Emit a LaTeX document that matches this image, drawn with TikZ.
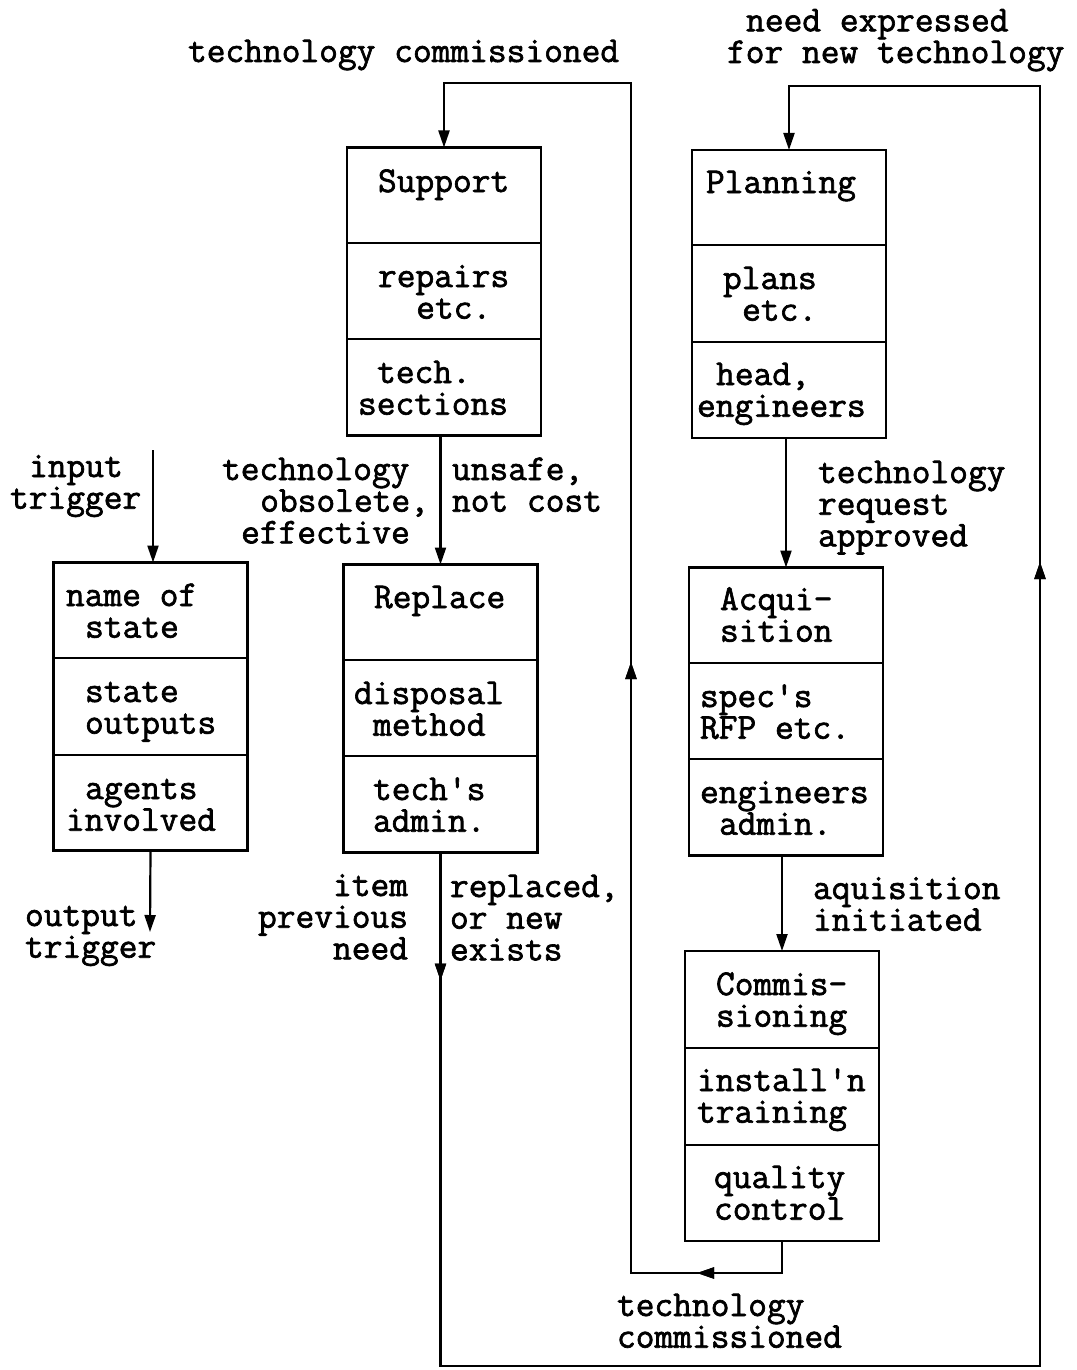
\documentclass[tikz,border=0pt]{standalone}
\usepackage{fontspec}
\setmonofont{Latin Modern Mono}[FakeBold=1.8]
\usetikzlibrary{arrows.meta,decorations.markings}
\newcommand\chsp{\hspace*{0.525em}}
\begin{document}
\begin{tikzpicture}[x=1pt,y=-1pt,
  every node/.style={font=\ttfamily\fontsize{36.4}{31.7}\selectfont, inner sep=0pt, outer sep=0pt},
  txt/.style={align=left, anchor=base west},
  txtr/.style={align=right, anchor=base east},
  statebox/.style={draw, line width=2.4pt, minimum width=194pt, minimum height=288pt},
  tip/.style={-{Triangle[length=17pt,width=11pt]}},
  conn/.style={line width=2.2pt},
  midtip/.style={postaction={decorate}, decoration={markings,
      mark=at position #1 with {\arrow{Triangle[length=17pt,width=11pt]}}}}
]
\useasboundingbox (0,0) rectangle (1076,1370);

% state boxes
\node[statebox] (Legend) at (150.5,706.5) {};
\node[statebox] (Support) at (444,291.5) {};
\node[statebox] (Planning) at (789,294) {};
\node[statebox] (Replace) at (440.5,708.5) {};
\node[statebox] (Acquisition) at (786,711.5) {};
\node[statebox, minimum height=290pt] (Commissioning) at (782,1096) {};

% row dividers
\draw[line width=2.4pt] (53,658) -- (248,658) (53,755) -- (248,755);
\draw[line width=2.4pt] (347,243) -- (541,243) (347,339) -- (541,339);
\draw[line width=2.4pt] (692,245) -- (886,245) (692,342) -- (886,342);
\draw[line width=2.4pt] (343.5,660) -- (537.5,660) (343.5,756) -- (537.5,756);
\draw[line width=2.4pt] (689,663) -- (883,663) (689,759) -- (883,759);
\draw[line width=2.4pt] (685,1048) -- (879,1048) (685,1145) -- (879,1145);

% texts in the boxes (anchored at the baseline of the last line)
\node[txt] (lg1) at (66,637.7) {name of\\\chsp state};
\node[txt] (lg2) at (85,733.7) {state\\outputs};
\node[txt] (lg3) at (66,830.7) {\chsp agents\\involved};

\node[txt] (su1) at (378,192) {Support};
\node[txt] (su2) at (378,318.7) {repairs\\\chsp\chsp etc.};
\node[txt] (su3) at (358,414.7) {\chsp tech.\\sections};

\node[txt] (pl1) at (706,193) {Planning};
\node[txt] (pl2) at (723,320.7) {plans\\\chsp etc.};
\node[txt] (pl3) at (697,416.7) {\chsp head,\\engineers};

\node[txt] (re1) at (374,608) {Replace};
\node[txt] (re2) at (354,735.7) {disposal\\\chsp method};
\node[txt] (re3) at (373,831.7) {tech's\\admin.};

\node[txt] (ac1) at (720,641.7) {Acqui-\\sition};
\node[txt] (ac2) at (700,738.7) {spec's\\RFP etc.};
\node[txt] (ac3) at (700,834.7) {engineers\\\chsp admin.};

\node[txt] (co1) at (716,1026.7) {Commis-\\sioning};
\node[txt] (co2) at (697,1122.7) {install'n\\training};
\node[txt] (co3) at (714,1219.7) {quality\\control};

% trigger labels
\node[txt] (topA) at (188,62) {technology commissioned};
\node[txt] (topB) at (727,63) {\chsp need expressed\\for new technology};
\node[txt] (inp) at (10,508.7) {\chsp input\\trigger};
\node[txt] (outp) at (25,957.7) {output\\trigger};
\node[txt] (obs) at (222,543.4) {technology\\\chsp\chsp obsolete,\\\chsp effective};
\node[txt] (uns) at (452,511.7) {unsafe,\\not cost};
\node[txt] (req) at (818,546.4) {technology\\request\\approved};
\node[txt] (aqi) at (813,930.7) {aquisition\\initiated};
\node[txtr] (itm) at (408,959.4) {item\\previous\\need};
\node[txt] (rpl) at (450,960.4) {replaced,\\or new\\exists};
\node[txt] (botA) at (617,1347.7) {technology\\commissioned};

% connector end points
\coordinate (inTop) at (153,450);
\coordinate (outEnd) at (150,932);
\coordinate (la1) at (631,1273);
\coordinate (la2) at (631,83);
\coordinate (lb1) at (1040,1366);
\coordinate (lb2) at (1040,86);

% connectors
\draw[conn,tip] (inTop) -- (inTop |- Legend.north);
\draw[conn,tip] (Legend.south) -- (outEnd);
\draw[conn,tip] (Replace.north |- Support.south) -- (Replace.north);
\draw[conn,tip] (Acquisition.north |- Planning.south) -- (Acquisition.north);
\draw[conn,tip] (Commissioning.north |- Acquisition.south) -- (Commissioning.north);

% commissioning feeds back to support
\draw[conn,tip,midtip=117pt,midtip=794pt]
  (Commissioning.south) |- (la1) -- (la2) -| (Support.north);
% replacement leads back to planning
\draw[conn,tip,midtip=128pt,midtip=1917pt]
  (Replace.south) |- (lb1) -- (lb2) -| (Planning.north);
\end{tikzpicture}
\end{document}
